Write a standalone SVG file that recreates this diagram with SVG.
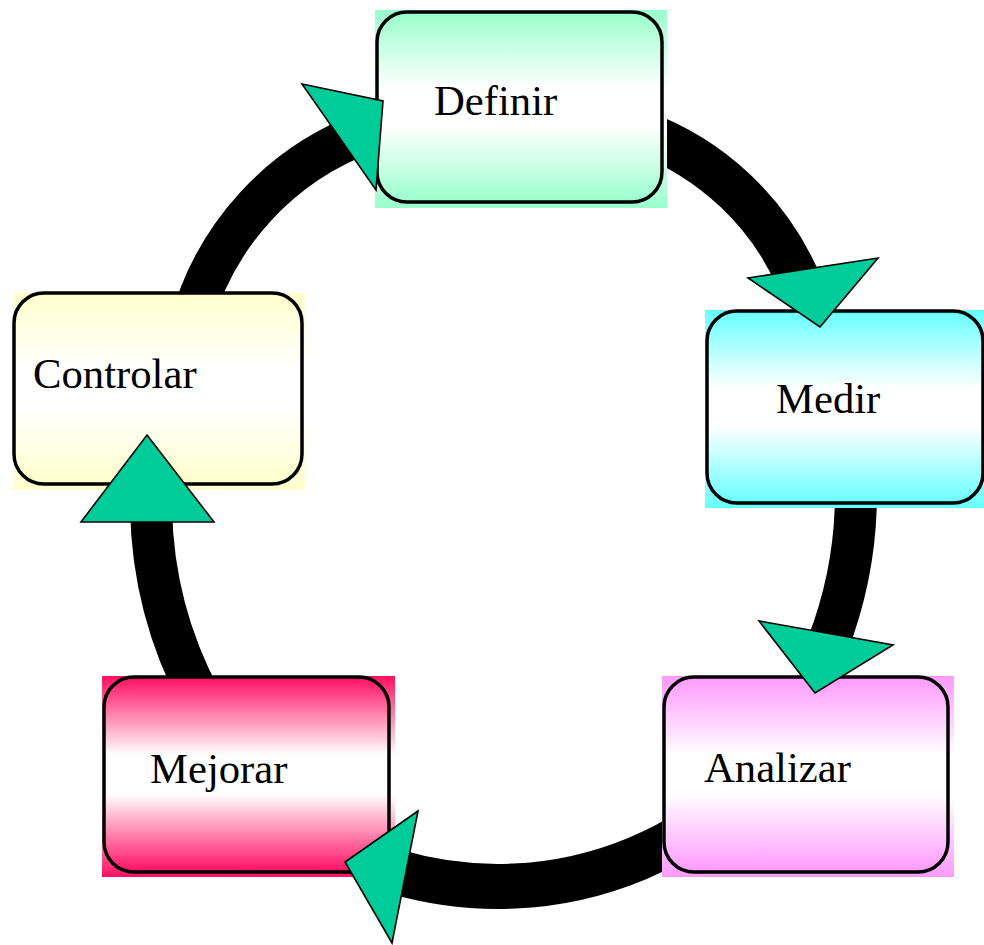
<svg xmlns="http://www.w3.org/2000/svg" width="984" height="945" viewBox="0 0 984 945">
  <defs>
    <linearGradient id="gDefinir" x1="0" y1="0" x2="0" y2="1">
      <stop offset="0" stop-color="#99FFCC"/>
      <stop offset="0.4" stop-color="#FFFFFF"/>
      <stop offset="0.6" stop-color="#FFFFFF"/>
      <stop offset="1" stop-color="#99FFCC"/>
    </linearGradient>
    <linearGradient id="gMedir" x1="0" y1="0" x2="0" y2="1">
      <stop offset="0" stop-color="#66FFFF"/>
      <stop offset="0.4" stop-color="#FFFFFF"/>
      <stop offset="0.6" stop-color="#FFFFFF"/>
      <stop offset="1" stop-color="#66FFFF"/>
    </linearGradient>
    <linearGradient id="gAnalizar" x1="0" y1="0" x2="0" y2="1">
      <stop offset="0" stop-color="#FF99FF"/>
      <stop offset="0.4" stop-color="#FFFFFF"/>
      <stop offset="0.6" stop-color="#FFFFFF"/>
      <stop offset="1" stop-color="#FF99FF"/>
    </linearGradient>
    <linearGradient id="gMejorar" x1="0" y1="0" x2="0" y2="1">
      <stop offset="0" stop-color="#FF0F62"/>
      <stop offset="0.4" stop-color="#FFFFFF"/>
      <stop offset="0.6" stop-color="#FFFFFF"/>
      <stop offset="1" stop-color="#FF0F62"/>
    </linearGradient>
    <linearGradient id="gControlar" x1="0" y1="0" x2="0" y2="1">
      <stop offset="0" stop-color="#FFFFCC"/>
      <stop offset="0.4" stop-color="#FFFFFF"/>
      <stop offset="0.6" stop-color="#FFFFFF"/>
      <stop offset="1" stop-color="#FFFFCC"/>
    </linearGradient>
  </defs>
  <style>
    .ring { fill: none; stroke: #000000; stroke-linecap: butt; }
    .box { stroke: #000000; stroke-width: 3.5; }
    .label { font-family: "Liberation Serif", "Times New Roman", serif; font-size: 42.7px; fill: #000000; }
    .head { fill: #00CC99; stroke: #000000; stroke-width: 1.6; stroke-linejoin: miter; }
  </style>

  <rect width="984" height="945" fill="#FFFFFF"/>

  <!-- curved connector bodies (drawn beneath the boxes) -->
  <g id="connectors">
    <path class="ring" stroke-width="42" d="M 190.6 324.8 A 283 283 0 0 1 367.2 132.1"/>
    <path class="ring" stroke-width="44" d="M 639.7 131.7 A 277 277 0 0 1 800.4 284.7"/>
    <path class="ring" stroke-width="42" d="M 855.7 478.3 A 420 420 0 0 1 827.6 644.9"/>
    <path class="ring" stroke-width="45" d="M 817.6 694.2 A 362.5 362.5 0 0 1 395.2 871.7"/>
    <path class="ring" stroke-width="42" d="M 201.0 700.0 A 421 421 0 0 1 151.1 493.7"/>
  </g>

  <!-- process steps -->
  <g id="node-definir">
    <rect x="375" y="10" width="292" height="198" fill="url(#gDefinir)"/>
    <rect class="box" x="377" y="12" width="285" height="190" rx="30" ry="30" fill="url(#gDefinir)"/>
    <text class="label" x="434" y="115">Definir</text>
  </g>
  <g id="node-medir">
    <rect x="705" y="310" width="279" height="198" fill="url(#gMedir)"/>
    <rect class="box" x="707" y="311" width="276" height="192" rx="30" ry="30" fill="url(#gMedir)"/>
    <text class="label" x="776" y="413">Medir</text>
  </g>
  <g id="node-analizar">
    <rect x="662" y="676" width="292" height="201" fill="url(#gAnalizar)"/>
    <rect class="box" x="664" y="677" width="284" height="195" rx="30" ry="30" fill="url(#gAnalizar)"/>
    <text class="label" x="704" y="782">Analizar</text>
  </g>
  <g id="node-mejorar">
    <rect x="102" y="676" width="293" height="201" fill="url(#gMejorar)"/>
    <rect class="box" x="104" y="677" width="285" height="195" rx="30" ry="30" fill="url(#gMejorar)"/>
    <text class="label" x="150" y="783">Mejorar</text>
  </g>
  <g id="node-controlar">
    <rect x="13" y="293" width="292" height="197" fill="url(#gControlar)"/>
    <rect class="box" x="14" y="293" width="288" height="191" rx="30" ry="30" fill="url(#gControlar)"/>
    <text class="label" x="33" y="388">Controlar</text>
  </g>

  <!-- arrowheads on top of the boxes -->
  <g id="arrowheads">
    <polygon class="head" points="302,84 383,101 376,190"/>
    <polygon class="head" points="748,278 878,258 820,327"/>
    <polygon class="head" points="759,621 893,645 815,693"/>
    <polygon class="head" points="418,811 345,862 392,943"/>
    <polygon class="head" points="147,435 214,522 81,522"/>
  </g>
</svg>
